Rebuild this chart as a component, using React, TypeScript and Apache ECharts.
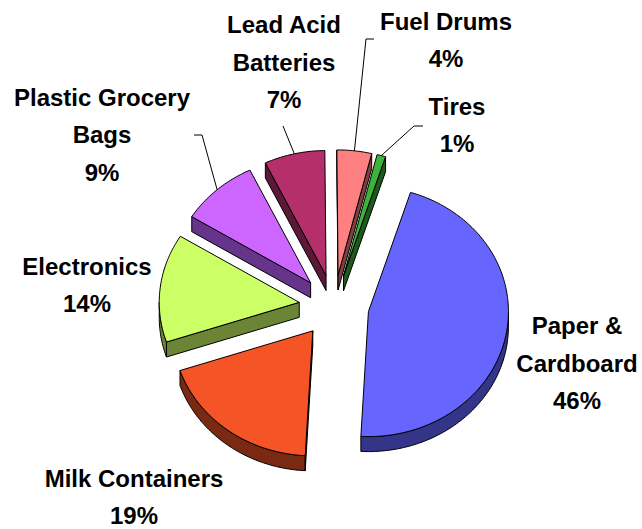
import { useEffect, useRef } from "react";
import * as echarts from "echarts";

// Share of collected recyclables by material (percent)
const categories = [
  "Paper &\nCardboard",
  "Milk Containers",
  "Electronics",
  "Plastic Grocery\nBags",
  "Lead Acid\nBatteries",
  "Fuel Drums",
  "Tires",
];
const shares = [46, 19, 14, 9, 7, 4, 1];

// Face colours (top surface and darker extruded side)
const topColors = ["#6666FF", "#F55426", "#CCFF66", "#CC66FF", "#B5306A", "#FF8080", "#3CB43C"];
const sideColors = ["#343488", "#7A2A13", "#6B8436", "#66348A", "#5C1838", "#804040", "#1E5A1E"];

// Layout of the tilted, exploded pie
const CX = 334;
const CY = 306;
const RX = 140;
const RY = 125;
const DEPTH = 15;
const EXPLODE = 35;
const START_ANGLE = 72.5;

// Label block centres and leader-line elbows
const labelCenters: number[][] = [
  [577, 363],
  [134, 497],
  [87, 285],
  [102, 134.5],
  [284, 62],
  [446, 40],
  [457, 125],
];
const leaderElbows: (number[][] | null)[] = [
  null,
  null,
  null,
  [[194, 135], [202, 135]],
  [[283, 126]],
  [[374, 39], [366, 39]],
  [[423, 126], [414, 126]],
];

const total = shares.reduce((s, v) => s + v, 0);
const cumulative = shares.map((_, i) => shares.slice(0, i).reduce((s, v) => s + v, 0));

const rad = (d: number) => (d * Math.PI) / 180;

function sliceGeom(i: number, v: number) {
  const a1 = START_ANGLE - (360 * cumulative[i]) / total;
  const a2 = a1 - (360 * v) / total;
  const mid = (a1 + a2) / 2;
  const px = CX + EXPLODE * Math.cos(rad(mid));
  const py = CY - EXPLODE * (RY / RX) * Math.sin(rad(mid));
  const arcPt = (a: number, f = 1): number[] => [
    px + f * RX * Math.cos(rad(a)),
    py - f * RY * Math.sin(rad(a)),
  ];
  return { a1, a2, mid, px, py, arcPt };
}

function arcAngles(a1: number, a2: number): number[] {
  const out: number[] = [a1];
  for (let a = Math.floor(a1); a > a2; a -= 1) {
    if (a < a1) out.push(a);
  }
  out.push(a2);
  return out;
}

export default function App() {
  const ref = useRef<HTMLDivElement>(null);

  useEffect(() => {
    document.body.style.margin = "0";
    if (!ref.current) return;
    const chart = echarts.init(ref.current, null, { renderer: "svg" });

    const data = shares.map((v) => [v]);

    const sideSeries = {
      type: "custom",
      coordinateSystem: "none",
      z: 1,
      silent: true,
      data,
      renderItem: (params: any, api: any) => {
        const i = params.dataIndex;
        const v = api.value(0);
        const g = sliceGeom(i, v);
        const P = [g.px, g.py];
        const Pd = [g.px, g.py + DEPTH];
        const children: any[] = [];
        const style = { fill: sideColors[i], stroke: "#000", lineWidth: 1, lineJoin: "round" };

        // outer curved wall, front half only
        const wallAngles = arcAngles(g.a1, g.a2);
        const extra: number[] = [];
        for (let k = -720; k <= 720; k += 180) {
          if (k < g.a1 && k > g.a2) extra.push(k);
        }
        const all = wallAngles.concat(extra).sort((a, b) => b - a);
        const front = all.filter((a) => Math.sin(rad(a)) <= 1e-9);
        if (front.length > 1) {
          const topPts = front.map((a) => g.arcPt(a));
          const botPts = topPts.map((p) => [p[0], p[1] + DEPTH]).reverse();
          children.push({ type: "polygon", shape: { points: topPts.concat(botPts) }, style });
        }
        // radial faces facing the viewer
        if (Math.cos(rad(g.a1)) < 0) {
          const E = g.arcPt(g.a1);
          children.push({
            type: "polygon",
            shape: { points: [P, E, [E[0], E[1] + DEPTH], Pd] },
            style,
          });
        }
        if (Math.cos(rad(g.a2)) > 0) {
          const E = g.arcPt(g.a2);
          children.push({
            type: "polygon",
            shape: { points: [P, E, [E[0], E[1] + DEPTH], Pd] },
            style,
          });
        }
        return { type: "group", children };
      },
    };

    const topSeries = {
      type: "custom",
      coordinateSystem: "none",
      z: 2,
      silent: true,
      data,
      renderItem: (params: any, api: any) => {
        const i = params.dataIndex;
        const v = api.value(0);
        const g = sliceGeom(i, v);
        const pts = [[g.px, g.py]].concat(arcAngles(g.a1, g.a2).map((a) => g.arcPt(a)));
        return {
          type: "polygon",
          shape: { points: pts },
          style: { fill: topColors[i], stroke: "#000", lineWidth: 1, lineJoin: "round" },
        };
      },
    };

    const labelSeries = {
      type: "custom",
      coordinateSystem: "none",
      z: 3,
      silent: true,
      data,
      renderItem: (params: any, api: any) => {
        const i = params.dataIndex;
        const v = api.value(0);
        const g = sliceGeom(i, v);
        const pct = Math.round((v / total) * 100);
        const children: any[] = [
          {
            type: "text",
            x: labelCenters[i][0],
            y: labelCenters[i][1],
            style: {
              text: `${categories[i]}\n${pct}%`,
              fill: "#000",
              fontFamily: '"Liberation Sans", Arial, sans-serif',
              fontWeight: "bold",
              fontSize: 24,
              lineHeight: 37.5,
              align: "center",
              verticalAlign: "middle",
            },
          },
        ];
        const elbows = leaderElbows[i];
        if (elbows) {
          const end = g.arcPt(g.mid);
          children.push({
            type: "polyline",
            shape: { points: elbows.concat([end]) },
            style: { stroke: "#000", lineWidth: 1, fill: null },
          });
        }
        return { type: "group", children };
      },
    };

    chart.setOption({
      animation: false,
      backgroundColor: "#fff",
      series: [sideSeries, topSeries, labelSeries],
    });

    return () => chart.dispose();
  }, []);

  return <div ref={ref} style={{ width: 642, height: 529 }} />;
}
